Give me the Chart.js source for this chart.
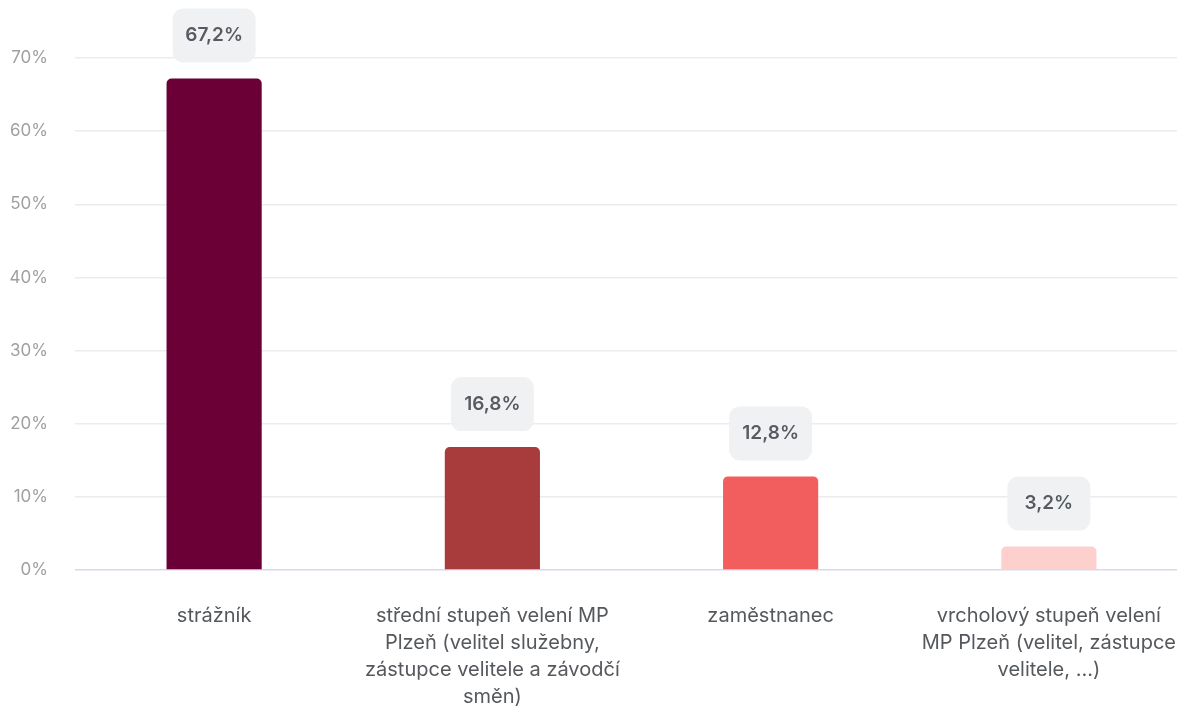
<!DOCTYPE html>
<html>
<head>
<meta charset="utf-8">
<script src="https://cdn.jsdelivr.net/npm/chart.js@4"></script>
<style>
  html, body { margin: 0; padding: 0; background: #fff; overflow: hidden; }
  #wrap { width: 1188px; height: 713px; }
</style>
</head>
<body>
<div id="wrap"><canvas id="myChart"></canvas></div>
<script>
const categories = [
    "strážník",
    ["střední stupeň velení MP", "Plzeň (velitel služebny,", "zástupce velitele a závodčí", "směn)"],
    "zaměstnanec",
    ["vrcholový stupeň velení", "MP Plzeň (velitel, zástupce", "velitele, ...)"],
];
const shares = [67.2, 16.8, 12.8, 3.2];
const barColors = ["#6a0036", "#a83b3c", "#f25d5e", "#fdd0ce"];
const yTicks = [0, 10, 20, 30, 40, 50, 60, 70];

const fmt = (v) => v.toFixed(1).replace(".", ",") + "%";

// grid lines stop a little short of the right edge
const gridEnd = {
    id: "gridEnd",
    beforeDatasetsDraw(chart) {
        const { ctx: c, chartArea: a } = chart;
        c.save();
        c.fillStyle = "#fff";
        c.fillRect(a.right - 11, a.top - 2, 20, a.bottom - a.top + 4);
        c.restore();
    },
};

// grey rounded badge with the value above every bar
const valueBadges = {
    id: "valueBadges",
    afterDatasetsDraw(chart) {
        const c = chart.ctx;
        const meta = chart.getDatasetMeta(0);
        c.save();
        c.font = "600 19px Inter";
        c.textAlign = "center";
        c.textBaseline = "middle";
        meta.data.forEach((bar, i) => {
            const w = 83, h = 54;
            const x = bar.x - w / 2;
            const y = bar.y - 16 - h;
            c.fillStyle = "#f0f1f3";
            c.beginPath();
            c.roundRect(x, y, w, h, 11);
            c.fill();
            c.fillStyle = "#575b61";
            c.fillText(fmt(shares[i]), bar.x, y + h / 2);
        });
        c.restore();
    },
};

const ctx = document.getElementById("myChart").getContext("2d");
const myChart = new Chart(ctx, {
    type: "bar",
    data: {
        labels: categories,
        datasets: [
            {
                data: shares,
                backgroundColor: barColors,
                borderRadius: 5,
                borderSkipped: "start",
                categoryPercentage: 1,
                barPercentage: 0.342,
            },
        ],
    },
    options: {
        responsive: true,
        maintainAspectRatio: false,
        animation: false,
        layout: { padding: { top: 58, right: 0, bottom: 0, left: 0 } },
        plugins: {
            legend: { display: false },
            tooltip: { enabled: false },
        },
        scales: {
            x: {
                grid: { display: false },
                border: { display: false },
                ticks: {
                    color: "#55585c",
                    font: { family: "Inter", size: 20, lineHeight: 1.35 },
                    padding: 24,
                    maxRotation: 0,
                    autoSkip: false,
                },
                afterFit(scale) {
                    // let the last label run off the edge instead of shrinking the plot
                    scale.height = 143;
                    scale.paddingLeft = 0;
                    scale.paddingRight = 0;
                },
            },
            y: {
                min: 0,
                max: 70,
                afterBuildTicks(scale) {
                    scale.ticks = yTicks.map((v) => ({ value: v }));
                },
                grid: {
                    color: (c) => (c.tick && c.tick.value === 0 ? "#d9d8ee" : "#ececf0"),
                    lineWidth: 1.5,
                    drawTicks: false,
                },
                border: { display: false },
                ticks: {
                    color: "#a0a0a2",
                    font: { family: "Inter", size: 17 },
                    padding: 27,
                    callback: (v) => v + "%",
                },
                afterFit(scale) {
                    scale.width = 75;
                    scale.paddingTop = 0;
                    scale.paddingBottom = 0;
                },
            },
        },
    },
    plugins: [gridEnd, valueBadges],
});
</script>
</body>
</html>
